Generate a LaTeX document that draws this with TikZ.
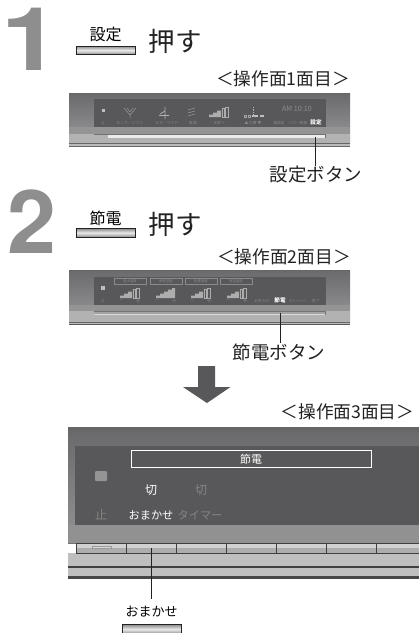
\documentclass[tikz,border=0pt]{standalone}
\usepackage{fontspec}
\setmainfont{Noto Sans CJK JP}
\newfontfamily\numfont{TeX Gyre Heros}
\usetikzlibrary{calc}
\definecolor{bigno}{HTML}{8E8E8E}
\definecolor{disp}{HTML}{58585A}
\definecolor{bodyT}{HTML}{6A6A6C}
\definecolor{bodyB}{HTML}{98989A}
\definecolor{strip}{HTML}{B9BABB}
\definecolor{ink}{HTML}{222222}
\definecolor{dim}{HTML}{8A8A8C}
\tikzset{
  bignum/.style={inner sep=0pt,text=bigno,font=\numfont\bfseries\fontsize{88}{88}\selectfont},
  keycap/.style={draw=ink,line width=.7pt,top color=black!45,bottom color=black!45,middle color=black!8},
  keylabel/.style={inner sep=0pt,text=black,font=\fontsize{16}{16}\selectfont},
  push/.style={inner sep=0pt,text=ink,font=\fontsize{26.5}{27}\selectfont},
  head/.style={inner sep=0pt,text=ink,font=\fontsize{17.7}{20}\selectfont},
  callout/.style={inner sep=0pt,text=ink,font=\fontsize{18.5}{19}\selectfont},
  leader/.style={draw=ink,line width=.8pt},
  body/.style={fill=bodyB,top color=bodyT,bottom color=bodyB},
  display/.style={fill=disp},
  tiny/.style={inner sep=0pt,text=dim,font=\fontsize{3.8}{4}\selectfont},
  tinyw/.style={inner sep=0pt,text=white,font=\bfseries\fontsize{5.6}{6}\selectfont},
  big3/.style={inner sep=0pt,text=white,font=\fontsize{12}{12}\selectfont},
  dim3/.style={inner sep=0pt,text=black!48,font=\fontsize{12}{12}\selectfont},
  tempframe/.style={draw=dim,line width=.4pt,inner sep=0pt,minimum width=32pt,minimum height=6pt,font=\fontsize{3.4}{4}\selectfont,text=dim},
}
\newcommand{\sigbars}[2]{%
  \fill[black!32] (#1,#2+10) |- (#1+4,#2+7.5) |- (#1+8,#2+5.5) |- (#1+12,#2+3.5) -- (#1+12,#2+10) -- cycle;
  \draw[black!32,line width=.5pt,fill=disp] (#1+13,#2+1.5) rectangle (#1+15.5,#2+10);
  \draw[black!32,line width=.5pt,fill=disp] (#1+16.5,#2) rectangle (#1+19,#2+10);
}
\newcommand{\sigfull}[2]{%
  \fill[black!32] (#1,#2+10) |- (#1+4,#2+7.5) |- (#1+8,#2+5.5) |- (#1+12,#2+3.5) |- (#1+16,#2+1.5) |- (#1+19,#2) -- (#1+19,#2+10) -- cycle;
}
\begin{document}
\begin{tikzpicture}[x=1pt,y=-1pt]
\useasboundingbox (0,0) rectangle (419,633);
\fill[white] (0,0) rectangle (419,633);

% ---- step 1
\node[bignum,xscale=1.2] (n1) at (31,39.5) {1};
\node[keylabel] (k1) at (105.5,34) {設定};
\draw[keycap] (76,46) rectangle (135,54.5);
\node[push] (p1) at (175,41.5) {押す};
\node[head] (h1) at (283,79) {＜操作面1面目＞};
% panel 1
\fill[body] (69,93) rectangle (350,143);
\fill[black!42] (69,127) rectangle (350,134);
\fill[black!30] (69,134) rectangle (350,143);
\fill[display] (94,99) rectangle (326,127);
\fill[black!8] (94,134) rectangle (325,137.5);
\fill[black!30] (94,134) rectangle (108,137.5);
\draw[black!55,line width=.5pt] (94,134) -- (325,134);
\draw[black!55,line width=.5pt] (325,134) -- (325,137.5);
\fill[black!60] (69,142.6) rectangle (350,143.6);
\fill[strip] (69,143.6) rectangle (350,145.6);
\fill[black!60] (69,145.6) rectangle (350,146.8);
\fill[black!60] (69,93) rectangle (350,94);
% panel 1 contents
\fill[black!25] (101.5,108.5) rectangle (104.5,111.5);
\draw[black!40,line width=.5pt] (124,108) -- (130,115) -- (136,108) (127,108) -- (130,112) -- (133,108) (130,115) -- (130,118);
\draw[black!30,line width=.7pt] (165,107) -- (165,119) (160,114) -- (165,111) (159,115.5) -- (169,115.5);
\draw[black!40,line width=.5pt] (188,110) -- (195,108) (188,113) -- (195,111) (188,116) -- (195,114);
\sigbars{209}{107}
\draw[black!35,line width=.5pt] (244,115.5) rectangle (246,117) (248,115.5) rectangle (250,117);
\fill[black!25] (252,114.5) rectangle (258,117);
\fill[black!25] (260,114.5) rectangle (264,117);
\draw[black!30,line width=.6pt,dash pattern=on 1pt off .7pt] (253.5,107) -- (253.5,116);
\node[inner sep=0pt,text=black!45,font=\fontsize{7.2}{8}\selectfont] (clock) at (297,108.5) {AM 10:10};
\foreach \nm/\px/\tx in {a/103/止,b/130/おしり／ソフト,c/167/ビデ／ワイド,d/193/乾燥,e/218/− 水勢 ＋,f/253/▲ 位置 ▼,g/279/風設定,h/298/パワー脱臭}
  \node[tiny] (p1t\nm) at (\px,123) {\tx};
\node[tinyw] (p1set) at (316,122.5) {設定};
% callout 1
\coordinate (btnA) at (315.5,137);
\node[callout] (c1) at (316,175) {設定ボタン};
\draw[leader] (btnA) -- (btnA |- c1.north);

% ---- step 2
\node[bignum] (n2) at (32,222) {2};
\node[keylabel] (k2) at (105.5,218) {節電};
\draw[keycap] (76,228.5) rectangle (135,237);
\node[push] (p2) at (175,224.5) {押す};
\node[head] (h2) at (284,257) {＜操作面2面目＞};
% panel 2
\fill[body] (69,270) rectangle (350,322);
\fill[black!42] (69,305) rectangle (350,311);
\fill[black!30] (69,311) rectangle (350,322);
\fill[display] (94,277) rectangle (326,305);
\fill[black!36] (94,311) rectangle (325,315);
\fill[black!15] (94,313.6) rectangle (325,314.6);
\draw[black!55,line width=.5pt] (94,311) -- (325,311) -- (325,315);
\fill[black!60] (69,321.8) rectangle (350,323);
\fill[strip] (69,323) rectangle (350,323.6);
\fill[black!65] (69,323.6) rectangle (350,324.6);
\fill[black!60] (69,270) rectangle (350,271);
\fill[black!25] (101,286) rectangle (105,290);
\foreach \nm/\fx/\tx in {a/130/温水温度,b/166/便座温度,c/201/乾燥温度,d/236/室温温度}
  \node[tempframe] (p2f\nm) at (\fx,281) {\tx};
\sigbars{120}{288}
\sigfull{156}{288}
\sigbars{191}{288}
\sigbars{227}{288}
\foreach \nm/\ix in {a/120,b/156,c/191,d/227}{
  \node[tiny,font=\fontsize{6}{6}\selectfont] (p2m\nm) at (\ix+1,301) {−};
  \node[tiny,font=\fontsize{6}{6}\selectfont] (p2p\nm) at (\ix+18,301) {＋};
}
\node[tiny] (p2stop) at (103,301) {止};
\node[tiny] (p2care) at (262,301.5) {お手入れ};
\node[tinyw] (p2save) at (280,300.5) {節電};
\node[tiny] (p2next) at (298,301.5) {3ページへ};
\node[tiny] (p2end) at (316,301.5) {終了};
% callout 2
\coordinate (btnB) at (280,313);
\node[callout] (c2) at (279,352) {節電ボタン};
\draw[leader] (btnB) -- (btnB |- c2.north);

% arrow
\fill[disp] (198,366) -- (215,366) -- (215,387) -- (230.5,387) -- (207,403) -- (183,387) -- (198,387) -- cycle;

% ---- panel 3
\node[head] (h3) at (347.5,412) {＜操作面3面目＞};
\fill[black!60] (68,427) rectangle (419,431);
\fill[top color=bodyT,bottom color=bodyB!105] (68,431) rectangle (419,543);
\fill[display] (75,446) rectangle (419,525);
\fill[black!43] (68,525) rectangle (419,543);
\fill[black!25] (68,553) rectangle (419,566);
\fill[black!75] (68,566) rectangle (419,568);
\fill[black!25] (68,568) rectangle (419,576);
\fill[black!72] (68,576) rectangle (419,579);
\draw[draw=white,line width=.9pt] (131,450) rectangle (371,467);
\node[inner sep=0pt,text=white,font=\fontsize{11}{11}\selectfont] (frame3) at (251,459) {節電};
\fill[rounded corners=1pt,fill=black!42] (95,471) rectangle (107,481);
\node[big3] (cutA) at (151,490) {切};
\node[dim3] (cutB) at (201,490) {切};
\node[dim3] (stop3) at (101,515) {止};
\node[big3,font=\fontsize{11.2}{12}\selectfont] (omk3) at (151,515) {おまかせ};
\node[dim3,font=\fontsize{11.2}{12}\selectfont] (tmr3) at (200,515) {タイマー};
% key row
\fill[black!32] (76,543) rectangle (419,553);
\fill[black!18] (76,543) rectangle (419,548);
\draw[black!75,line width=.8pt] (419,543) -- (76,543) -- (76,553) -- (419,553);
\draw[black!55,line width=.5pt] (68,543) -- (76,543);
\foreach \kx in {126.5,176.5,226.5,276.5,326,376}
  \draw[black!75,line width=.8pt] (\kx,543) -- (\kx,553);
\draw[black!40,fill=black!15,line width=.4pt] (92,546) rectangle (111,548.5);
% callout 3
\coordinate (btnC) at (151,548);
\node[inner sep=0pt,text=black,font=\fontsize{13}{13}\selectfont] (c3) at (151.5,612) {おまかせ};
\draw[leader] (btnC) -- (btnC |- 0,599);
\path[keycap] (122,624.5) -- (181,624.5) -- (181,634) -- (122,634) -- cycle;
\end{tikzpicture}
\end{document}
